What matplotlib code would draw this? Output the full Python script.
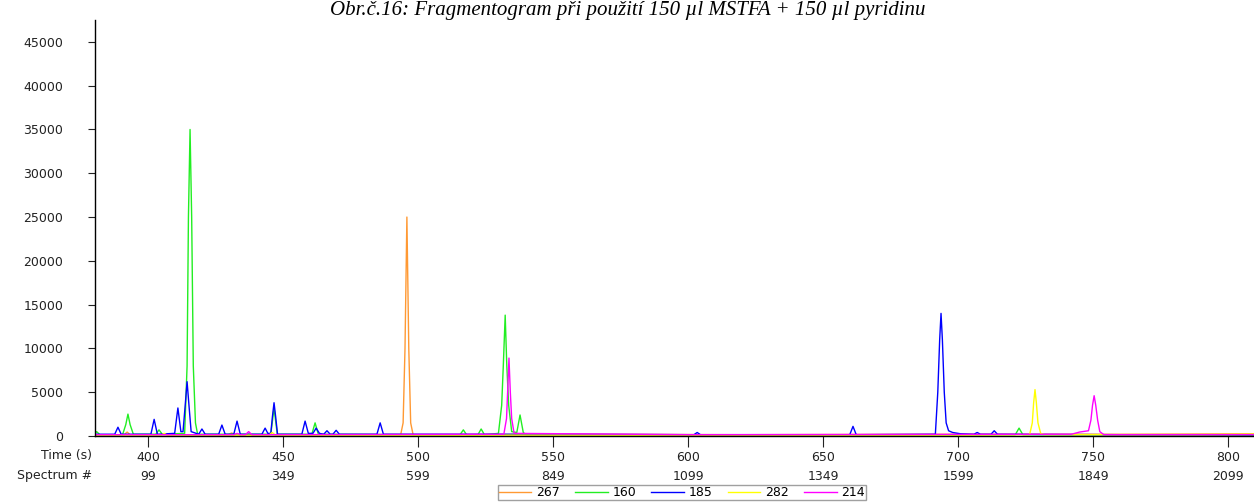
import matplotlib
matplotlib.use("Agg")
import matplotlib.pyplot as plt

# Ion traces (m/z) of the GC-MS run: vertices (time in s, abundance)
TIME_267 = [380.4, 391.2, 392.3, 393.4, 429.8, 431.0, 432.2, 493.6, 494.5, 495.2,
            495.9, 496.6, 497.3, 498.2, 560.0, 620.0, 700.0, 760.0, 810.0]
ABUND_267 = [150, 150, 450, 150, 150, 350, 150, 150, 1500, 10000,
             25000, 10000, 1500, 150, 200, 150, 200, 200, 250]

TIME_160 = [380.4, 381.0, 382.2, 390.6, 391.8, 392.6, 393.4, 394.6, 402.9, 404.1,
            405.3, 413.6, 414.5, 415.0, 415.6, 416.2, 416.8, 417.6, 418.4, 445.5,
            446.7, 447.9, 460.7, 461.9, 463.1, 515.6, 516.8, 518.0, 522.2, 523.4,
            524.6, 529.8, 531.0, 531.6, 532.3, 532.9, 533.6, 534.7, 536.6, 537.8,
            539.0, 540.0, 600.0, 660.0, 721.2, 722.6, 724.0, 810.0]
ABUND_160 = [300, 500, 150, 150, 1300, 2500, 1300, 200, 200, 700,
             200, 300, 8000, 25000, 35000, 25000, 8000, 1500, 200, 200,
             3200, 200, 200, 1500, 200, 150, 700, 150, 150, 800,
             150, 300, 3500, 8000, 13800, 8000, 3500, 500, 400, 2400,
             400, 150, 150, 150, 150, 900, 150, 100]

TIME_185 = [380.4, 387.7, 388.9, 390.1, 401.1, 402.3, 403.5, 409.9, 411.1, 412.2,
            413.0, 413.8, 414.5, 415.2, 416.0, 418.8, 420.0, 421.2, 426.2, 427.4,
            428.6, 431.8, 433.0, 434.2, 442.2, 443.4, 444.4, 445.5, 446.1, 446.7,
            447.3, 448.0, 457.0, 458.2, 459.4, 461.1, 462.3, 463.5, 465.1, 466.3,
            467.5, 468.5, 469.7, 470.9, 484.8, 486.0, 487.2, 550.0, 602.2, 603.4,
            604.6, 659.9, 661.1, 662.3, 691.6, 692.5, 693.2, 693.7, 694.2, 694.9,
            695.6, 696.5, 698.0, 701.0, 705.9, 707.1, 708.3, 712.2, 713.4, 714.6,
            760.0, 810.0]
ABUND_185 = [200, 200, 1000, 200, 200, 1900, 200, 300, 3200, 500,
             500, 3500, 6200, 3500, 500, 200, 800, 200, 200, 1250,
             200, 200, 1700, 200, 200, 900, 300, 300, 2200, 3800,
             2200, 200, 200, 1700, 300, 300, 900, 300, 200, 600,
             200, 200, 650, 200, 200, 1500, 200, 200, 150, 400,
             150, 150, 1100, 150, 200, 5000, 11000, 14000, 11000, 5000,
             1500, 600, 400, 250, 200, 400, 200, 200, 600, 200,
             150, 150]

TIME_282 = [380.4, 404.8, 406.0, 407.2, 444.8, 446.0, 447.2, 600.0, 700.0, 726.5,
            727.5, 728.0, 728.5, 729.0, 729.6, 730.6, 732.0, 790.0, 810.0]
ABUND_282 = [100, 100, 300, 100, 100, 400, 100, 100, 100, 150,
             1500, 3800, 5300, 3800, 1500, 300, 150, 150, 200]

TIME_214 = [380.4, 431.8, 433.0, 434.2, 436.1, 437.3, 438.5, 531.8, 532.8, 533.2,
            533.7, 534.2, 534.7, 535.6, 600.0, 742.0, 745.0, 748.3, 749.2, 749.8,
            750.4, 751.0, 751.7, 752.5, 754.0, 810.0]
ABUND_214 = [150, 150, 300, 150, 150, 500, 150, 200, 2000, 5000,
             8900, 5000, 2000, 300, 150, 200, 450, 600, 1800, 3500,
             4600, 3500, 1800, 500, 150, 150]

SERIES = [("267", TIME_267, ABUND_267, "#ff9933"),
          ("160", TIME_160, ABUND_160, "#22ee22"),
          ("185", TIME_185, ABUND_185, "#0000ff"),
          ("282", TIME_282, ABUND_282, "#ffff00"),
          ("214", TIME_214, ABUND_214, "#ff00ff")]

TIME_TICKS = [400, 450, 500, 550, 600, 650, 700, 750, 800]
SPECTRUM_LABELS = [99, 349, 599, 849, 1099, 1349, 1599, 1849, 2099]
Y_TICKS = [0, 5000, 10000, 15000, 20000, 25000, 30000, 35000, 40000, 45000]

TITLE = "Obr.č.16: Fragmentogram při použití 150 µl MSTFA + 150 µl pyridinu"

W, H = 1254, 503
fig = plt.figure(figsize=(W / 100, H / 100), dpi=100)
ax = fig.add_axes([95 / W, 67 / H, 1 - 95 / W, 416 / H])

handles = []
for name, t, y, color in SERIES:
    line, = ax.plot(t, y, color=color, lw=1.0, label=name)
    handles.append(line)

ax.set_xlim(380.4, 809.6)
ax.set_ylim(0, 47500)

ax.set_xticks(TIME_TICKS)
ax.set_xticklabels([f"{t}\n{s}" for t, s in zip(TIME_TICKS, SPECTRUM_LABELS)],
                   linespacing=1.55)
ax.set_yticks(Y_TICKS)
ax.set_yticklabels([str(v) for v in Y_TICKS])

ax.tick_params(axis="x", length=8, width=0.8, pad=3, labelsize=9, colors="#222222")
ax.tick_params(axis="y", length=5, width=0.8, pad=18, labelsize=9, colors="#222222")
for side in ("top", "right"):
    ax.spines[side].set_visible(False)
for side in ("left", "bottom"):
    ax.spines[side].set_linewidth(1.0)
    ax.spines[side].set_color("black")

fig.text(92 / W, 1 - 456 / H, "Time (s)", ha="right", va="center",
         fontsize=9, color="#222222")
fig.text(92 / W, 1 - 475 / H, "Spectrum #", ha="right", va="center",
         fontsize=9, color="#222222")

fig.text(628 / W, 1 - 15 / H, TITLE, ha="center", va="baseline",
         fontsize=15, family="Liberation Serif", style="italic")

leg = fig.legend(handles=handles, loc="center", ncol=5,
                 bbox_to_anchor=(682 / W, 1 - 492.5 / H),
                 fontsize=9, frameon=True, fancybox=False, borderpad=0.1,
                 handlelength=2.6, handletextpad=0.4, columnspacing=1.2,
                 borderaxespad=0)
leg.get_frame().set_edgecolor("#888888")
leg.get_frame().set_linewidth(1.0)

fig.savefig("out.png", dpi=100)
